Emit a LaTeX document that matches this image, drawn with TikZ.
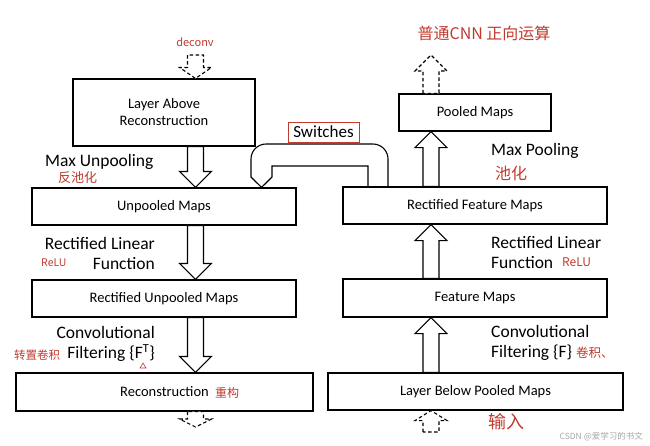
\documentclass[tikz,border=0pt]{standalone}
\usepackage{fontspec}
\setmainfont{Carlito}
\newfontfamily\handCJK{Noto Sans CJK SC}
\usetikzlibrary{calc,positioning}
\definecolor{penRed}{RGB}{192,58,46}
\tikzset{
  mapbox/.style={draw, line width=1.1pt, inner sep=0pt, minimum height=37pt,
    align=center, font=\fontsize{14.5}{17}\selectfont},
  note/.style={inner sep=0pt, font=\fontsize{17.5}{20}\selectfont},
  pen/.style={inner sep=0pt, text=penRed, font=\handCJK\fontsize{#1}{#1}\selectfont},
  hollow/.style={draw, fill=white, line width=1.1pt, line join=miter},
  dashy/.style={dash pattern=on 3.5pt off 2.5pt},
  pipe/.style={draw, line width=1.1pt},
}
\newcommand\hollowArrow[4]{%
  \draw[hollow,#1] let \p1=(#3), \p2=(#4), \p3=($(\x1,\y2)!#2pt!(\x1,\y1)$) in
    (\x1-8pt,\y1) -- (\x1-8pt,\y3) -- (\x1-16pt,\y3) -- (\x1,\y2)
    -- (\x1+16pt,\y3) -- (\x1+8pt,\y3) -- (\x1+8pt,\y1) -- cycle;}
\begin{document}
\begin{tikzpicture}[x=1pt, y=-1pt]
  \def\leftX{195.5}
  \def\rightX{431}
  \useasboundingbox (0,0) rectangle (650,445);
  \coordinate (LC) at (\leftX,0);
  \coordinate (RC) at (\rightX,0);

  \node[mapbox, minimum width=182pt, minimum height=67pt] (Above) at (164,112.5) {Layer Above\\Reconstruction};
  \node[mapbox, minimum width=264pt] (Unpooled) at (164,206.5) {Unpooled Maps};
  \node[mapbox, minimum width=264pt] (RUnpooled) at (164,298.5) {Rectified Unpooled Maps};
  \node[mapbox, minimum width=297pt, minimum height=38pt] (Recon) at (164.5,392) {Reconstruction};

  \node[mapbox, minimum width=152pt] (Pooled) at (475,112.5) {Pooled Maps};
  \node[mapbox, minimum width=264pt] (RFeat) at (475,205.5) {Rectified Feature Maps};
  \node[mapbox, minimum width=264pt, minimum height=38pt] (Feat) at (475,298) {Feature Maps};
  \node[mapbox, minimum width=295pt] (LayerBelow) at (475.5,391.5) {Layer Below Pooled Maps};

  \coordinate (DeconvIn) at (\leftX,55);
  \coordinate (ReconOut) at (\leftX,427);
  \coordinate (CnnOut) at (\rightX,55);
  \coordinate (InputIn) at (\rightX,432);

  \hollowArrow{dashy}{11}{DeconvIn}{Above.north -| LC}
  \hollowArrow{}{16}{Above.south -| LC}{Unpooled.north -| LC}
  \hollowArrow{}{16}{Unpooled.south -| LC}{RUnpooled.north -| LC}
  \hollowArrow{}{16}{RUnpooled.south -| LC}{Recon.north -| LC}
  \hollowArrow{dashy}{8}{Recon.south -| LC}{ReconOut}

  \hollowArrow{dashy}{10}{InputIn}{LayerBelow.south -| RC}
  \hollowArrow{}{16}{LayerBelow.north -| RC}{Feat.south -| RC}
  \hollowArrow{}{16}{Feat.north -| RC}{RFeat.south -| RC}
  \hollowArrow{}{16}{RFeat.north -| RC}{Pooled.south -| RC}
  \hollowArrow{dashy}{16}{Pooled.north -| RC}{CnnOut}

  \coordinate (SwOut) at (388,0);
  \coordinate (SwTip) at (261.5,0);
  \draw[pipe] (RFeat.north -| SwOut) [rounded corners=15pt] -- (388,144) -- (251,144)
    [sharp corners] -- (251,177) -- (Unpooled.north -| SwTip) -- (272,177)
    -- (272,166) -- (368,166) -- (368,187);
  \node[note, draw=penRed, line width=1pt, font=\fontsize{17}{17}\selectfont,
    minimum width=71pt, minimum height=20pt] (Switch) at (323.5,132) {Switches};

  \node[note, anchor=west] (MaxUnpool) at (45,162) {Max Unpooling};
  \node[note, anchor=east, align=right] (ReluL) at (155,253) {Rectified Linear\\Function};
  \node[note, anchor=east, align=right] (ConvL) at (155,344) {Convolutional\\Filtering \{F\textsuperscript{T}\}};
  \node[note, anchor=west] (MaxPool) at (491,151) {Max Pooling};
  \node[note, anchor=west, align=left] (ReluR) at (491,252) {Rectified Linear\\Function};
  \node[note, anchor=west, align=left] (ConvR) at (491,343) {Convolutional\\Filtering \{F\}};

  \node[pen=11] (Deconv) at (195,42) {deconv};
  \node[pen=13, anchor=west] (FanChi) at (58,178) {反池化};
  \node[pen=10.5, anchor=west] (ReluTagL) at (41,263) {ReLU};
  \node[pen=11.5, anchor=west] (TConv) at (14,355) {转置卷积};
  \draw[penRed, line width=0.6pt] (140,368) -- (146,368) -- (143,363) -- cycle;
  \node[pen=12, anchor=west] (ChongGou) at (215,393) {重构};
  \node[pen=16] (CnnTag) at (484,33) {普通CNN 正向运算};
  \node[pen=16, anchor=west] (ChiHua) at (495,173) {池化};
  \node[pen=12, anchor=west] (ReluTagR) at (562,262) {ReLU};
  \node[pen=12.5, anchor=west] (JuanJi) at (576,353) {卷积、};
  \node[pen=18, anchor=west] (ShuRu) at (488,422) {输入};
  \node[inner sep=0pt, anchor=east, text=black!35, font=\handCJK\fontsize{8.5}{9}\selectfont] (Mark) at (643,437) {CSDN @爱学习的书文};
\end{tikzpicture}
\end{document}
